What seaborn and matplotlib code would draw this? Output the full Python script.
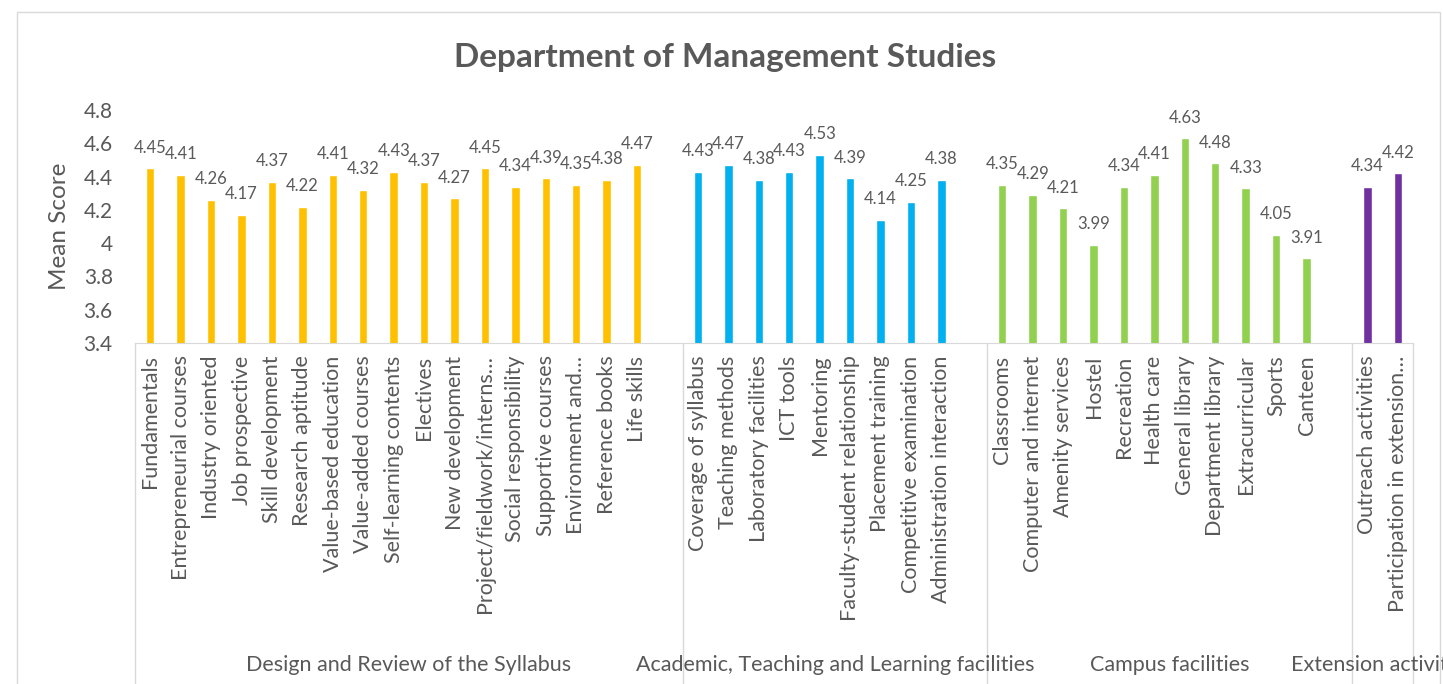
import numpy as np
import pandas as pd
import matplotlib.pyplot as plt
import matplotlib.transforms as mtransforms
from matplotlib.patches import Rectangle
from matplotlib.ticker import FuncFormatter
import seaborn as sb

groups = ['Design and Review of the Syllabus',
          'Academic, Teaching and Learning facilities',
          'Campus facilities',
          'Extension activities']

syllabus_items = ['Fundamentals', 'Entrepreneurial courses', 'Industry oriented',
                  'Job prospective', 'Skill development', 'Research aptitude',
                  'Value-based education', 'Value-added courses', 'Self-learning contents',
                  'Electives', 'New development', 'Project/fieldwork/interns\u2026',
                  'Social responsibility', 'Supportive courses', 'Environment and\u2026',
                  'Reference books', 'Life skills']
syllabus_scores = [4.45, 4.41, 4.26, 4.17, 4.37, 4.22, 4.41, 4.32, 4.43,
                   4.37, 4.27, 4.45, 4.34, 4.39, 4.35, 4.38, 4.47]

academic_items = ['Coverage of syllabus', 'Teaching methods', 'Laboratory facilities',
                  'ICT tools', 'Mentoring', 'Faculty-student relationship',
                  'Placement training', 'Competitive examination', 'Administration interaction']
academic_scores = [4.43, 4.47, 4.38, 4.43, 4.53, 4.39, 4.14, 4.25, 4.38]

campus_items = ['Classrooms', 'Computer and internet', 'Amenity services', 'Hostel',
                'Recreation', 'Health care', 'General library', 'Department library',
                'Extracurricular', 'Sports', 'Canteen']
campus_scores = [4.35, 4.29, 4.21, 3.99, 4.34, 4.41, 4.63, 4.48, 4.33, 4.05, 3.91]

extension_items = ['Outreach activities', 'Participation in extension\u2026']
extension_scores = [4.34, 4.42]

colors = ['#FFC000', '#00B0F0', '#92D050', '#7030A0']

all_items = [syllabus_items, academic_items, campus_items, extension_items]
all_scores = [syllabus_scores, academic_scores, campus_scores, extension_scores]

rows = []
order = []
for k in range(len(groups)):
    for item, score in zip(all_items[k], all_scores[k]):
        rows.append({'item': item, 'score': score, 'group': groups[k]})
        order.append(item)
    if k < len(groups) - 1:
        order.append(' ' * (k + 1))  # empty slot between groups
df = pd.DataFrame(rows)

sb.set_style('white')
plt.rcParams['font.family'] = ['Lato', 'DejaVu Sans']
gray = '#595959'

fig = plt.figure(figsize=(14.43, 6.84), dpi=100)
ax = fig.add_axes([135 / 1443, (684 - 343) / 684, (1413 - 135) / 1443, (343 - 110) / 684])

sb.barplot(data=df, x='item', y='score', hue='group', order=order, hue_order=groups,
           palette=colors, saturation=1, dodge=False, width=0.28, legend=False, ax=ax)

for c in ax.containers:
    ax.bar_label(c, fmt='%.2f', padding=9, fontsize=12, color=gray)

ax.set_ylim(3.4, 4.8)
ax.set_yticks(np.arange(3.4, 4.81, 0.2))
ax.yaxis.set_major_formatter(FuncFormatter(lambda v, p: f'{round(v, 1):g}'))
ax.set_xlim(-0.5, len(order) - 0.5)
ax.tick_params(axis='y', length=0, pad=16, labelsize=15, labelcolor=gray)
ax.tick_params(axis='x', length=0, pad=9, labelsize=15.5, labelcolor=gray)
plt.setp(ax.get_xticklabels(), rotation=90, va='top', ha='center')
ax.set_xlabel('')
ax.set_ylabel('')

for s in ['top', 'right', 'left']:
    ax.spines[s].set_visible(False)
ax.spines['bottom'].set_color('#D9D9D9')

# group separators and group names under the category axis
trans = mtransforms.blended_transform_factory(ax.transData, ax.transAxes)
edges = [-0.5]
pos = -0.5
for k in range(len(groups)):
    pos += len(all_items[k]) + (1 if k < len(groups) - 1 else 0)
    edges.append(pos)
for e in edges:
    ax.plot([e, e], [0, -1.7], transform=trans, color='#D9D9D9', lw=1, clip_on=False)
for k in range(len(groups)):
    ax.text((edges[k] + edges[k + 1]) / 2, -1.38, groups[k], transform=trans,
            ha='center', va='center', fontsize=15.5, color=gray, clip_on=False)

fig.text(60 / 1443, (684 - 226) / 684, 'Mean Score', rotation=90, ha='center',
         va='center', fontsize=17.5, color=gray)
fig.text(0.5025, (684 - 57) / 684, 'Department of Management Studies', ha='center',
         va='center', fontsize=24, fontweight='bold', color=gray)

fig.patches.append(Rectangle((17 / 1443, -0.05), (1440 - 17) / 1443, 0.05 + (684 - 12) / 684,
                             transform=fig.transFigure, fill=False, edgecolor='#D9D9D9', lw=1))

fig.savefig('out.png', dpi=100)
